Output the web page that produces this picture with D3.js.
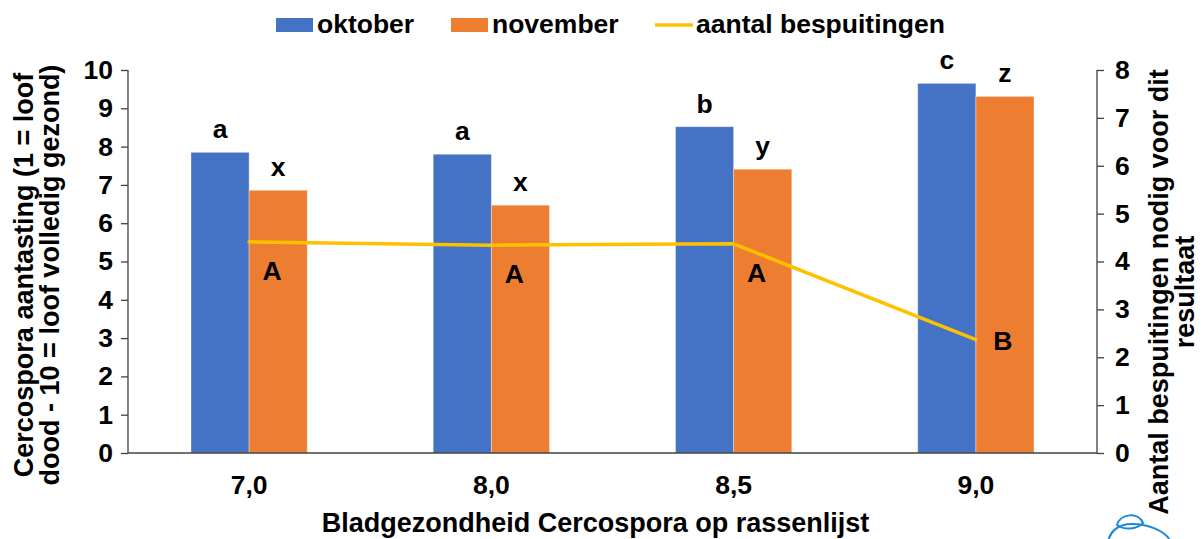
<!DOCTYPE html>
<html>
<head>
<meta charset="utf-8">
<script src="https://cdn.jsdelivr.net/npm/d3@7"></script>
<style>
  body { margin: 0; background: #fff; }
  svg text { font-family: "Liberation Sans", Arial, sans-serif; font-weight: bold; fill: #000; }
</style>
</head>
<body>
<div id="chart"></div>
<script>
// data
const categories = ["7,0", "8,0", "8,5", "9,0"];
const seriesNames = ["oktober", "november"];
const oktober = [7.85, 7.8, 8.52, 9.65];
const november = [6.86, 6.47, 7.41, 9.31];
const oktoberLetters = ["a", "a", "b", "c"];
const novemberLetters = ["x", "x", "y", "z"];
const bespuitingen = [4.41, 4.34, 4.37, 2.37];
const bespuitingenLetters = ["A", "A", "A", "B"];
const leftTicks = [0, 1, 2, 3, 4, 5, 6, 7, 8, 9, 10];
const rightTicks = [0, 1, 2, 3, 4, 5, 6, 7, 8];

const W = 1203, H = 539;
const margin = { top: 70, right: 106, bottom: 86, left: 128 };
const colors = { oktober: "#4472C4", november: "#ED7D31", line: "#FFC000" };
const fontSize = "26.5px";
const titleSize = "27px";

const svg = d3.select("#chart").append("svg")
    .attr("width", W)
    .attr("height", H);

// scales
const x0 = d3.scaleBand()
    .domain(categories)
    .range([margin.left, W - margin.right])
    .paddingInner(0.52)
    .paddingOuter(0.26);

const x1 = d3.scaleBand()
    .domain(seriesNames)
    .range([0, x0.bandwidth()])
    .padding(0);

const yLeft = d3.scaleLinear().domain([0, 10]).range([H - margin.bottom, margin.top]);
const yRight = d3.scaleLinear().domain([0, 8]).range([H - margin.bottom, margin.top]);

// bars
const rows = categories.map((c, i) => ({
    cat: c,
    values: [
        { key: "oktober", v: oktober[i], letter: oktoberLetters[i] },
        { key: "november", v: november[i], letter: novemberLetters[i] }
    ]
}));

const groups = svg.append("g").selectAll("g")
    .data(rows)
    .enter().append("g")
    .attr("transform", d => `translate(${x0(d.cat)},0)`);

groups.selectAll("rect")
    .data(d => d.values)
    .enter().append("rect")
    .attr("x", d => x1(d.key))
    .attr("y", d => yLeft(d.v))
    .attr("width", x1.bandwidth())
    .attr("height", d => yLeft(0) - yLeft(d.v))
    .attr("fill", d => colors[d.key])
    .attr("stroke", "#ffffff")
    .attr("stroke-opacity", 0.35)
    .attr("stroke-width", 1);

// letters above bars
groups.selectAll("text.bar-letter")
    .data(d => d.values)
    .enter().append("text")
    .attr("class", "bar-letter")
    .attr("x", d => x1(d.key) + x1.bandwidth() / 2)
    .attr("y", d => yLeft(d.v) - 14)
    .attr("text-anchor", "middle")
    .style("font-size", fontSize)
    .text(d => d.letter);

// axes
const axisColor = "#404040";

const gLeft = svg.append("g")
    .attr("transform", `translate(${margin.left},0)`)
    .call(d3.axisLeft(yLeft).tickValues(leftTicks).tickSize(7).tickPadding(8));

const gRight = svg.append("g")
    .attr("transform", `translate(${W - margin.right},0)`)
    .call(d3.axisRight(yRight).tickValues(rightTicks).tickSize(7).tickPadding(11));

[gLeft, gRight].forEach(g => {
    g.select(".domain").attr("stroke", axisColor).attr("stroke-width", 1.3)
        .attr("d", g === gLeft
            ? `M0,${yLeft(10)}V${yLeft(0)}`
            : `M0,${yRight(8)}V${yRight(0)}`);
    g.selectAll(".tick line").attr("stroke", axisColor).attr("stroke-width", 1.3);
    g.selectAll(".tick text").style("font-size", fontSize);
});

// x axis: baseline + category labels
svg.append("line")
    .attr("x1", margin.left)
    .attr("x2", W - margin.right)
    .attr("y1", yLeft(0))
    .attr("y2", yLeft(0))
    .attr("stroke", axisColor)
    .attr("stroke-width", 1.3);

svg.append("g").selectAll("text")
    .data(categories)
    .enter().append("text")
    .attr("x", d => x0(d) + x0.bandwidth() / 2)
    .attr("y", yLeft(0) + 41)
    .attr("text-anchor", "middle")
    .style("font-size", fontSize)
    .text(d => d);

// line series on right axis
const linePts = categories.map((c, i) => ({
    x: x0(c) + x0.bandwidth() / 2,
    y: yRight(bespuitingen[i]),
    letter: bespuitingenLetters[i],
    last: i === categories.length - 1
}));

svg.append("path")
    .datum(linePts)
    .attr("fill", "none")
    .attr("stroke", colors.line)
    .attr("stroke-width", 3.5)
    .attr("stroke-linejoin", "round")
    .attr("stroke-linecap", "round")
    .attr("d", d3.line().x(d => d.x).y(d => d.y));

// letters near the line points (below-right, last one to the right)
svg.append("g").selectAll("text")
    .data(linePts)
    .enter().append("text")
    .attr("x", d => d.last ? d.x + 27 : d.x + 23)
    .attr("y", d => d.last ? d.y + 10 : d.y + 38)
    .attr("text-anchor", "middle")
    .style("font-size", fontSize)
    .text(d => d.letter);

// axis titles
const leftTitle = svg.append("text")
    .attr("transform", `translate(33,275) rotate(-90)`)
    .attr("text-anchor", "middle")
    .style("font-size", titleSize);
leftTitle.append("tspan").attr("x", 0).attr("dy", 0).text("Cercospora aantasting (1 = loof");
leftTitle.append("tspan").attr("x", 0).attr("dy", 26).text("dood - 10 = loof volledig gezond)");

const rightTitle = svg.append("text")
    .attr("transform", `translate(1168,292) rotate(-90)`)
    .attr("text-anchor", "middle")
    .style("font-size", titleSize);
rightTitle.append("tspan").attr("x", 0).attr("dy", 0).text("Aantal bespuitingen nodig voor dit");
rightTitle.append("tspan").attr("x", 0).attr("dy", 26).text("resultaat");

svg.append("text")
    .attr("x", (margin.left + W - margin.right) / 2 - 17)
    .attr("y", yLeft(0) + 79)
    .attr("text-anchor", "middle")
    .style("font-size", titleSize)
    .text("Bladgezondheid Cercospora op rassenlijst");

// legend
const legendItems = [
    { name: "oktober", type: "rect", color: colors.oktober, x: 276 },
    { name: "november", type: "rect", color: colors.november, x: 451 },
    { name: "aantal bespuitingen", type: "line", color: colors.line, x: 655 }
];
const legend = svg.append("g");
legendItems.forEach(it => {
    if (it.type === "rect") {
        legend.append("rect")
            .attr("x", it.x).attr("y", 18)
            .attr("width", 37).attr("height", 14)
            .attr("fill", it.color);
    } else {
        legend.append("line")
            .attr("x1", it.x).attr("x2", it.x + 38)
            .attr("y1", 25).attr("y2", 25)
            .attr("stroke", it.color).attr("stroke-width", 3.5);
    }
    legend.append("text")
        .attr("x", it.x + 41)
        .attr("y", 33)
        .style("font-size", fontSize)
        .text(it.name);
});

// partial logo in the bottom-right corner
const logo = svg.append("g").attr("fill", "none").attr("stroke", "#1F88D8").attr("stroke-width", 2);
logo.append("path").attr("d", "M1108,545 C1108,532 1118,524 1132,524 C1146,524 1168,530 1172,545");
logo.append("path").attr("d", "M1117,525 C1120,514 1138,511 1143,523 C1136,530 1124,530 1117,525 Z");
</script>
</body>
</html>
